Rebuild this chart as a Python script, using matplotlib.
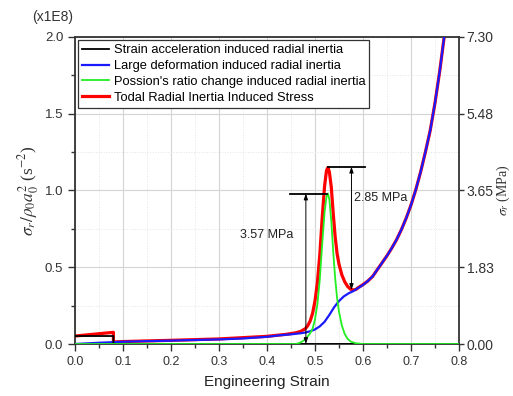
import matplotlib
matplotlib.use("Agg")
import matplotlib.pyplot as plt
from matplotlib.ticker import MultipleLocator, FormatStrFormatter

# values (left axis in units of 1E8 s^-2)
strain_accel_x = [0.0, 0.08, 0.0801, 0.8]
strain_accel_y = [0.052, 0.052, 0.0, 0.0]

large_def_x = [0.0, 0.05, 0.08, 0.1, 0.2, 0.3, 0.35, 0.4, 0.427, 0.45, 0.47, 0.48, 0.49,
               0.50, 0.51, 0.52, 0.53, 0.54, 0.55, 0.56, 0.57, 0.58, 0.59, 0.60, 0.61,
               0.62, 0.63, 0.64, 0.65, 0.66, 0.67, 0.68, 0.69, 0.70, 0.71, 0.72, 0.73,
               0.74, 0.75, 0.76, 0.77, 0.775]
large_def_y = [0.0, 0.008, 0.012, 0.015, 0.022, 0.03, 0.036, 0.047, 0.057, 0.063, 0.07, 0.075, 0.083,
               0.095, 0.115, 0.145, 0.19, 0.24, 0.28, 0.31, 0.33, 0.345, 0.365, 0.385, 0.41,
               0.44, 0.485, 0.53, 0.575, 0.625, 0.68, 0.745, 0.82, 0.905, 1.005, 1.12, 1.25,
               1.39, 1.57, 1.78, 2.02, 2.15]

poisson_x = [0.0, 0.46, 0.47, 0.48, 0.49, 0.495, 0.50, 0.505, 0.51, 0.515, 0.52, 0.524, 0.527,
             0.53, 0.534, 0.538, 0.542, 0.546, 0.55, 0.556, 0.562, 0.568, 0.575, 0.585, 0.60, 0.8]
poisson_y = [0.0, 0.0, 0.01, 0.03, 0.07, 0.10, 0.16, 0.26, 0.42, 0.65, 0.86, 0.96, 0.98,
             0.94, 0.80, 0.60, 0.43, 0.30, 0.21, 0.12, 0.065, 0.033, 0.015, 0.005, 0.0, 0.0]

total_x = [0.0, 0.08, 0.0801, 0.1, 0.2, 0.3, 0.4, 0.44, 0.46, 0.47, 0.48, 0.485, 0.49, 0.495,
           0.50, 0.505, 0.51, 0.515, 0.52, 0.524, 0.527, 0.53, 0.534, 0.538, 0.542, 0.546,
           0.55, 0.556, 0.562, 0.568, 0.574, 0.58, 0.585, 0.59, 0.60, 0.61, 0.62, 0.63,
           0.64, 0.65, 0.66, 0.67, 0.68, 0.69, 0.70, 0.71, 0.72, 0.73, 0.74, 0.75, 0.76,
           0.77, 0.775]
total_y = [0.052, 0.076, 0.013, 0.016, 0.024, 0.033, 0.05, 0.063, 0.073, 0.082, 0.10, 0.12, 0.15, 0.20,
           0.28, 0.40, 0.58, 0.82, 1.03, 1.13, 1.15, 1.12, 1.02, 0.85, 0.70, 0.59,
           0.52, 0.45, 0.405, 0.375, 0.357, 0.352, 0.355, 0.367, 0.387, 0.41, 0.44, 0.485,
           0.53, 0.575, 0.625, 0.68, 0.745, 0.82, 0.905, 1.005, 1.12, 1.25, 1.39, 1.57, 1.78,
           2.02, 2.15]

right_ticks = [0.0, 1.825, 3.65, 5.475, 7.30]
right_labels = ["0.00", "1.83", "3.65", "5.48", "7.30"]

# annotation levels
peak_green = 0.98
peak_red = 1.155
valley_red = 0.352

sans = ["Liberation Sans", "DejaVu Sans"]
plt.rcParams["font.family"] = sans
plt.rcParams["mathtext.fontset"] = "stix"

fig = plt.figure(figsize=(5.13, 3.96), dpi=100)
ax = fig.add_axes([0.1462, 0.1313, 0.7485, 0.7753])

ax.plot(total_x, total_y, color="#ff0000", lw=2.3, zorder=2,
        label="Todal Radial Inertia Induced Stress")
ax.plot(large_def_x, large_def_y, color="#1a1aff", lw=1.6, zorder=3,
        label="Large deformation induced radial inertia")
ax.plot(strain_accel_x, strain_accel_y, color="black", lw=1.3, zorder=4,
        label="Strain acceleration induced radial inertia")
ax.plot(poisson_x, poisson_y, color="#22ee22", lw=1.3, zorder=5,
        label="Possion's ratio change induced radial inertia")

ax.set_xlim(0, 0.8)
ax.set_ylim(0, 2.0)
ax.xaxis.set_major_locator(MultipleLocator(0.1))
ax.xaxis.set_minor_locator(MultipleLocator(0.05))
ax.yaxis.set_major_locator(MultipleLocator(0.5))
ax.yaxis.set_minor_locator(MultipleLocator(0.25))
ax.xaxis.set_major_formatter(FormatStrFormatter("%.1f"))
ax.yaxis.set_major_formatter(FormatStrFormatter("%.1f"))
ax.grid(which="major", color="#d4d4d4", lw=0.8)
ax.grid(which="minor", color="#e4e4e4", lw=0.7, ls=":")
ax.set_axisbelow(True)
ax.tick_params(which="major", direction="out", length=5, width=1, colors="#333333")
ax.tick_params(axis="x", labelsize=9)
ax.tick_params(axis="y", labelsize=9.5)
ax.tick_params(which="minor", direction="out", length=3, width=1, colors="#333333")
for s in ax.spines.values():
    s.set_linewidth(1.3)
    s.set_color("#333333")

ax.set_xlabel("Engineering Strain", fontsize=11, color="#222222", labelpad=5)
ax.set_ylabel(r"$\sigma_r/\rho_0 a_0^2$ (s$^{-2}$)", fontsize=12.5, color="#333333",
              family="Liberation Serif", labelpad=3)
fig.text(0.062, 0.958, "(x1E8)", fontsize=10, color="#333333", ha="left", va="center")

# legend in the original order
h, l = ax.get_legend_handles_labels()
order = [2, 1, 3, 0]
leg = ax.legend([h[i] for i in order], [l[i] for i in order], loc="upper left",
                fontsize=9.3, handlelength=2.1, handletextpad=0.35, labelspacing=0.3,
                borderpad=0.3, borderaxespad=0.25, fancybox=False, framealpha=1)
leg.get_frame().set_edgecolor("#333333")
leg.get_frame().set_linewidth(0.9)

# annotations
ax.plot([0.448, 0.524], [peak_green, peak_green], color="black", lw=1.3, zorder=6)
ax.plot([0.528, 0.604], [peak_red, peak_red], color="black", lw=1.3, zorder=6)
ax.annotate("", xy=(0.481, peak_green), xytext=(0.481, 0.0),
            arrowprops=dict(arrowstyle="<|-|>,head_length=0.35,head_width=0.12",
                            color="black", lw=0.7, shrinkA=0, shrinkB=0), zorder=6)
ax.annotate("", xy=(0.576, peak_red), xytext=(0.576, valley_red),
            arrowprops=dict(arrowstyle="<|-|>,head_length=0.35,head_width=0.12",
                            color="black", lw=0.7, shrinkA=0, shrinkB=0), zorder=6)
ax.text(0.344, 0.71, "3.57 MPa", fontsize=9, color="#222222", va="center")
ax.text(0.582, 0.95, "2.85 MPa", fontsize=9, color="#222222", va="center")

ax2 = ax.twinx()
ax2.set_ylim(0, 7.30)
ax2.set_yticks(right_ticks)
ax2.set_yticklabels(right_labels)
ax2.tick_params(direction="out", length=3.5, width=1, pad=2, labelsize=10, colors="#333333")
for s in ax2.spines.values():
    s.set_visible(False)
ax2.set_ylabel(r"$\sigma_r$ (MPa)", fontsize=10, color="#333333", family="Liberation Serif",
               labelpad=0.5)

fig.savefig("out.png", dpi=100)
